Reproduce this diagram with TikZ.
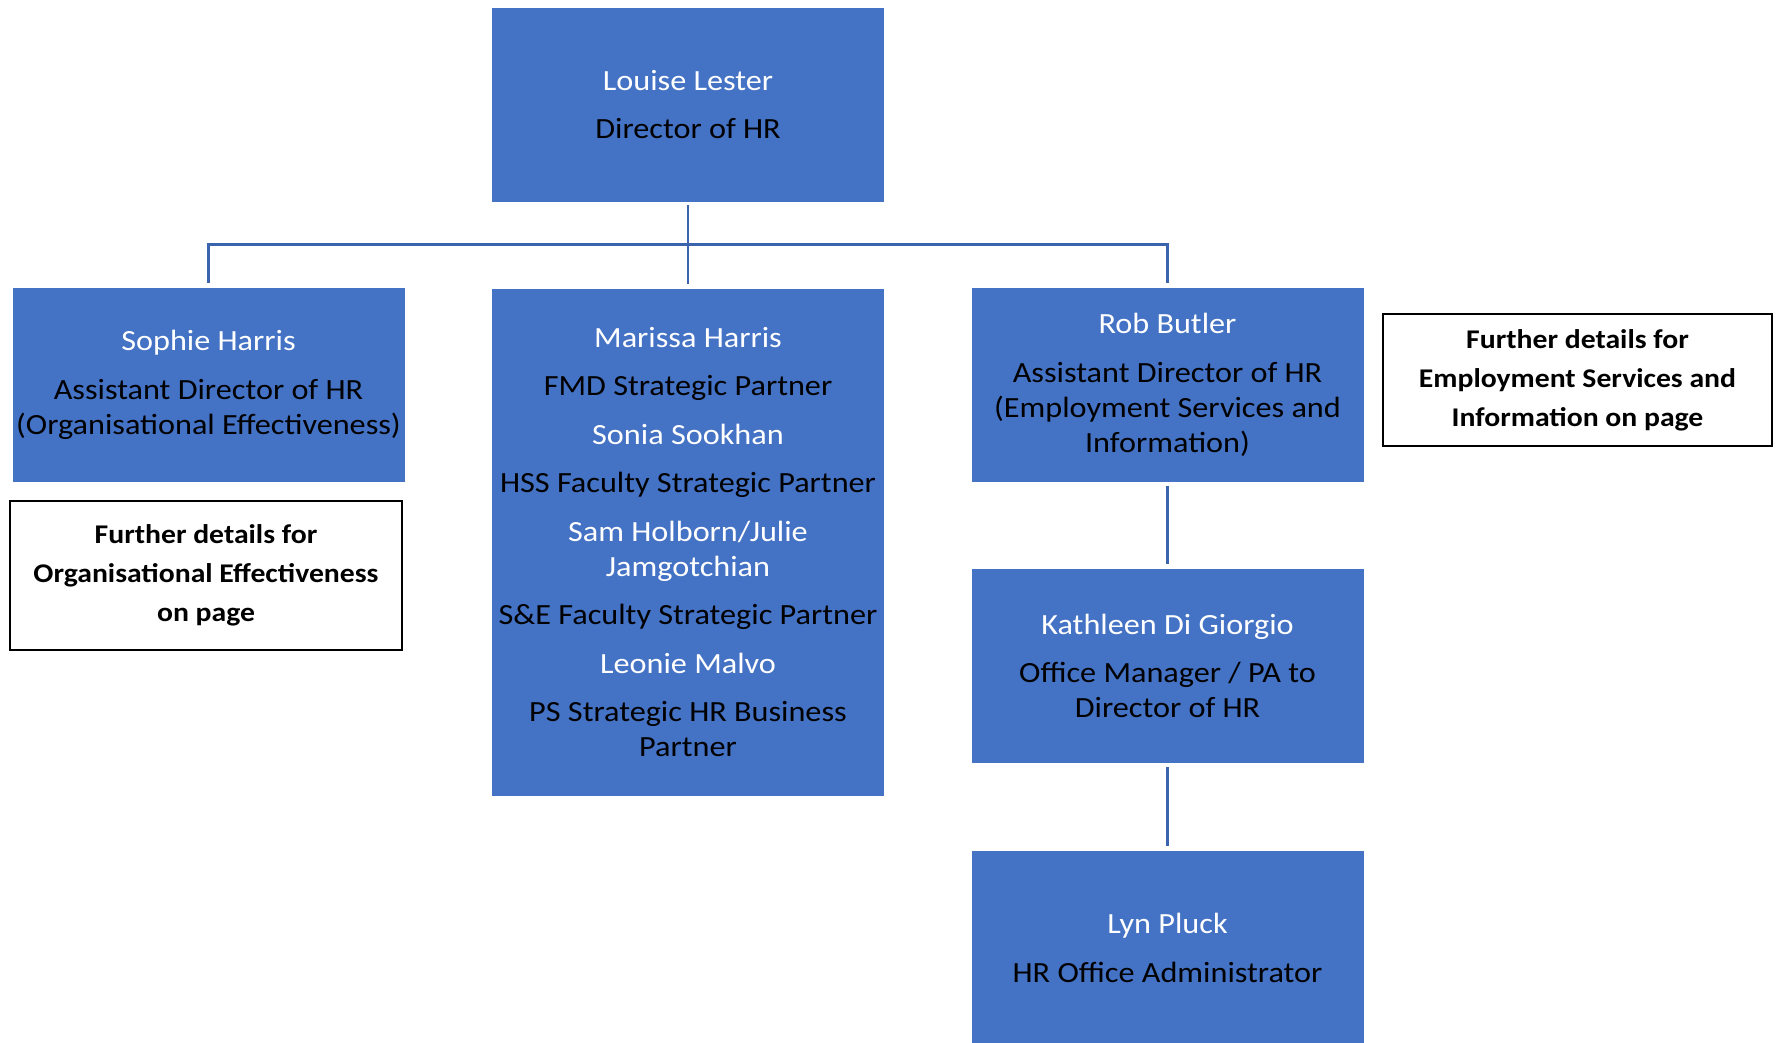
\documentclass[tikz,border=0pt]{standalone}
\usepackage{fontspec}
\setmainfont{Carlito}[FakeStretch=1.1]
\usepackage{tikz}

\definecolor{boxblue}{HTML}{4472C4}
\definecolor{lineblue}{HTML}{3B64AE}
\newcommand{\pname}[1]{\textcolor{white}{#1}}

\begin{document}
\begin{tikzpicture}[x=1pt,y=-1pt]
        % Define the styles for the boxes and links
        \tikzstyle{staff}=[rectangle, fill=boxblue, draw=white, line width=0.8pt, minimum width=393pt, minimum height=195pt, inner sep=2pt, align=center, font=\fontsize{29.3}{35}\selectfont]
        \tikzstyle{note}=[rectangle, draw=black, line width=2pt, inner sep=2pt, align=center, font=\bfseries\fontsize{27}{39}\selectfont]
        \tikzstyle{link}=[draw=lineblue, line width=2.2pt, shorten <=3pt, shorten >=4pt]

        \useasboundingbox (0,0) rectangle (1779,1042);

        % Define the nodes
        \node[staff] (louise) at (688,104.5) {\pname{Louise Lester}\\[13.5pt] Director of HR};
        \node[staff] (sophie) at (208.5,385) {\pname{Sophie Harris}\\[13.5pt] Assistant Director of HR\\ (Organisational Effectiveness)};
        \node[staff, minimum height=508pt] (marissa) at (688,542) {\pname{Marissa Harris}\\[13.5pt] FMD Strategic Partner\\[13.5pt] \pname{Sonia Sookhan}\\[13.5pt] HSS Faculty Strategic Partner\\[13.5pt] \pname{Sam Holborn/Julie}\\ \pname{Jamgotchian}\\[13.5pt] S\&E Faculty Strategic Partner\\[13.5pt] \pname{Leonie Malvo}\\[13.5pt] PS Strategic HR Business\\ Partner};
        \node[staff] (rob) at (1167.5,385) {\pname{Rob Butler}\\[13.5pt] Assistant Director of HR\\ (Employment Services and\\ Information)};
        \node[staff] (kathleen) at (1167.5,666) {\pname{Kathleen Di Giorgio}\\[13.5pt] Office Manager / PA to\\ Director of HR};
        \node[staff] (lyn) at (1167.5,948) {\pname{Lyn Pluck}\\[13.5pt] HR Office Administrator};

        % Define the notes
        \node[note, minimum width=392pt, minimum height=149pt] (oenote) at (206,575.5) {Further details for\\ Organisational Effectiveness\\ on page};
        \node[note, minimum width=389pt, minimum height=132pt] (esnote) at (1577.5,380) {Further details for\\ Employment Services and\\ Information on page};

        % Define the links
        \draw[link] (louise.south) -- ++(0,42) -| (sophie.north);
        \draw[link] (louise.south) -- (marissa.north);
        \draw[link] (louise.south) -- ++(0,42) -| (rob.north);
        \draw[link] (rob.south) -- (kathleen.north);
        \draw[link] (kathleen.south) -- (lyn.north);
    \end{tikzpicture}
\end{document}
